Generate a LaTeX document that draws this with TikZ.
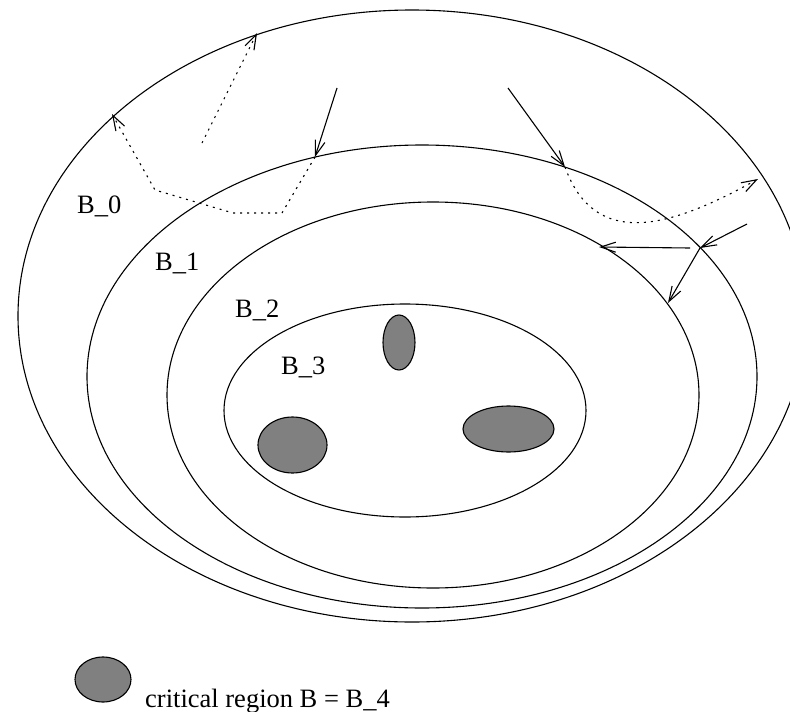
\documentclass[tikz,border=0pt]{standalone}
\usepackage{fontspec}
\setmainfont{Liberation Serif}
\usetikzlibrary{arrows.meta}
\tikzset{
  region/.style={line width=1.1pt},
  critical/.style={draw=black, fill=gray, line width=1.1pt},
  move/.style={line width=1.1pt, -{Straight Barb[length=15pt,width=10pt,line width=1.1pt]}},
  escape/.style={move, dash pattern=on 2pt off 5pt},
  lbl/.style={anchor=base west, inner sep=0pt, font=\fontsize{26.5}{30}\selectfont},
}
\begin{document}
\begin{tikzpicture}[x=1pt, y=-1pt]
            \useasboundingbox (0,0) rectangle (790,712);
            \clip (0,0) rectangle (790,712);
            \coordinate (C0) at (412,316);
            \coordinate (C1) at (422,376.5);
            \coordinate (C2) at (433,395);
            \coordinate (C3) at (405,410.5);
            
            \draw[region] (C0) ellipse [x radius=394pt, y radius=306pt];
            \draw[region] (C1) ellipse [x radius=335pt, y radius=231.5pt];
            \draw[region] (C2) ellipse [x radius=266pt, y radius=193pt];
            \draw[region] (C3) ellipse [x radius=181pt, y radius=106.5pt];
            
            \draw[critical] (399,342.5) ellipse [x radius=16pt, y radius=27.5pt];
            \draw[critical] (292.5,445) ellipse [x radius=34.5pt, y radius=28pt];
            \draw[critical] (508.5,429) ellipse [x radius=45.5pt, y radius=23pt];
            \draw[critical] (103,679.5) ellipse [x radius=28pt, y radius=22.5pt];
            
            \node[lbl] (b0) at (77,213) {B\_0};
            \node[lbl] (b1) at (155,270) {B\_1};
            \node[lbl] (b2) at (235,317) {B\_2};
            \node[lbl] (b3) at (281,374) {B\_3};
            \node[lbl] (key) at (145,707) {critical region B = B\_4};
            
            \coordinate (P1) at (337,88);
            \coordinate (Q1) at (315,157);
            \coordinate (Q2) at (282,213);
            \coordinate (Q3) at (233,213);
            \coordinate (Q4) at (155,190);
            \coordinate (Q5) at (112,114);
            \coordinate (R1) at (202,143);
            \coordinate (R2) at (257,33);
            
            \draw[move] (P1) -- (Q1);
            \draw[escape] (Q1) -- (Q2) -- (Q3) -- (Q4) -- (Q5);
            \draw[escape] (R1) -- (R2);
            
            \coordinate (P2) at (508,88);
            \coordinate (S1) at (565,167);
            \coordinate (S2) at (758,179);
            \coordinate (T1) at (747,224);
            \coordinate (T2) at (700,248);
            \coordinate (T3) at (690,248);
            \coordinate (T4) at (599,247);
            \coordinate (T5) at (668,303);
            
            \draw[move] (P2) -- (S1);
            \draw[escape] (S1) .. controls (595,250) and (670,228) .. (S2);
            \draw[move] (T1) -- (T2);
            \draw[move] (T3) -- (T4);
            \draw[move] (T2) -- (T5);
        \end{tikzpicture}
\end{document}
